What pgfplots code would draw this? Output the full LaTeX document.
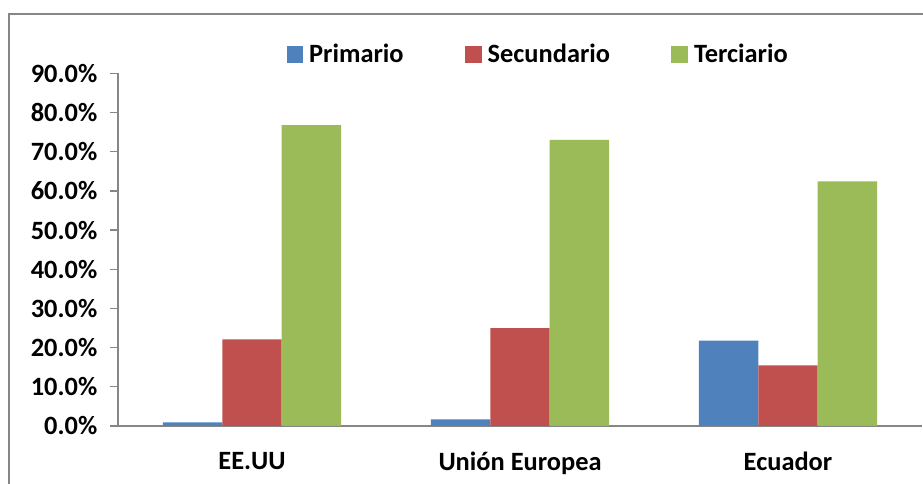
\documentclass[border=0pt]{standalone}
\usepackage{pgfplots}
\pgfplotsset{compat=1.18}
\usepackage{fontspec}
\setmainfont{Carlito}
\definecolor{cblue}{HTML}{4F81BD}
\definecolor{cred}{HTML}{C0504D}
\definecolor{cgreen}{HTML}{9BBB59}
\definecolor{axgray}{HTML}{868686}
\begin{document}
\begin{tikzpicture}[x=1pt,y=1pt]
\useasboundingbox (0,0) rectangle (692.25,363);
\draw[axgray, line width=1.1pt] (6.75,-20) -- (6.75,352.5) -- (720,352.5);
\begin{axis}[
  at={(88.5pt,43.5pt)}, anchor=south west,
  scale only axis, width=603pt, height=264.5pt,
  xmin=-0.5, xmax=2.5, ymin=0, ymax=90,
  ybar=0pt, bar width=44.6pt,
  axis x line*=bottom, axis y line*=left,
  axis line style={axgray, line width=1pt, -},
  every tick/.style={axgray, line width=1pt},
  tick align=outside,
  xtick={0,1,2}, xticklabels={EE.UU, Unión Europea, Ecuador},
  x tick style={draw=none},
  extra x ticks={-0.5,0.5,1.5,2.5}, extra x tick labels={},
  extra x tick style={major tick length=6pt, x tick style={axgray, line width=1pt}},
  ytick={0,10,...,90}, major tick length=6pt,
  font=\fontsize{19.8}{23}\selectfont\bfseries,
  yticklabel={\pgfmathprintnumber[fixed,fixed zerofill,precision=1,assume math mode=true]{\tick}\%},
  yticklabel style={xshift=-6pt},
  xticklabel style={yshift=-10pt},
  legend columns=3,
  legend style={at={(0.523,1.054)}, anchor=center, draw=none, fill=none,
    font=\fontsize{19.8}{23}\selectfont\bfseries,
    /tikz/every even column/.append style={column sep=44pt}},
  legend image code/.code={\fill (0pt,-6.25pt) rectangle (12.5pt,6.25pt); \path (15pt,0pt);},
]
\addplot[fill=cblue, draw=none] coordinates {(0,0.95) (1,1.7) (2,21.8)};
\addplot[fill=cred, draw=none] coordinates {(0,22.1) (1,25.0) (2,15.5)};
\addplot[fill=cgreen, draw=none] coordinates {(0,76.8) (1,73.0) (2,62.4)};
\legend{Primario, Secundario, Terciario}
\end{axis}
\end{tikzpicture}
\end{document}
